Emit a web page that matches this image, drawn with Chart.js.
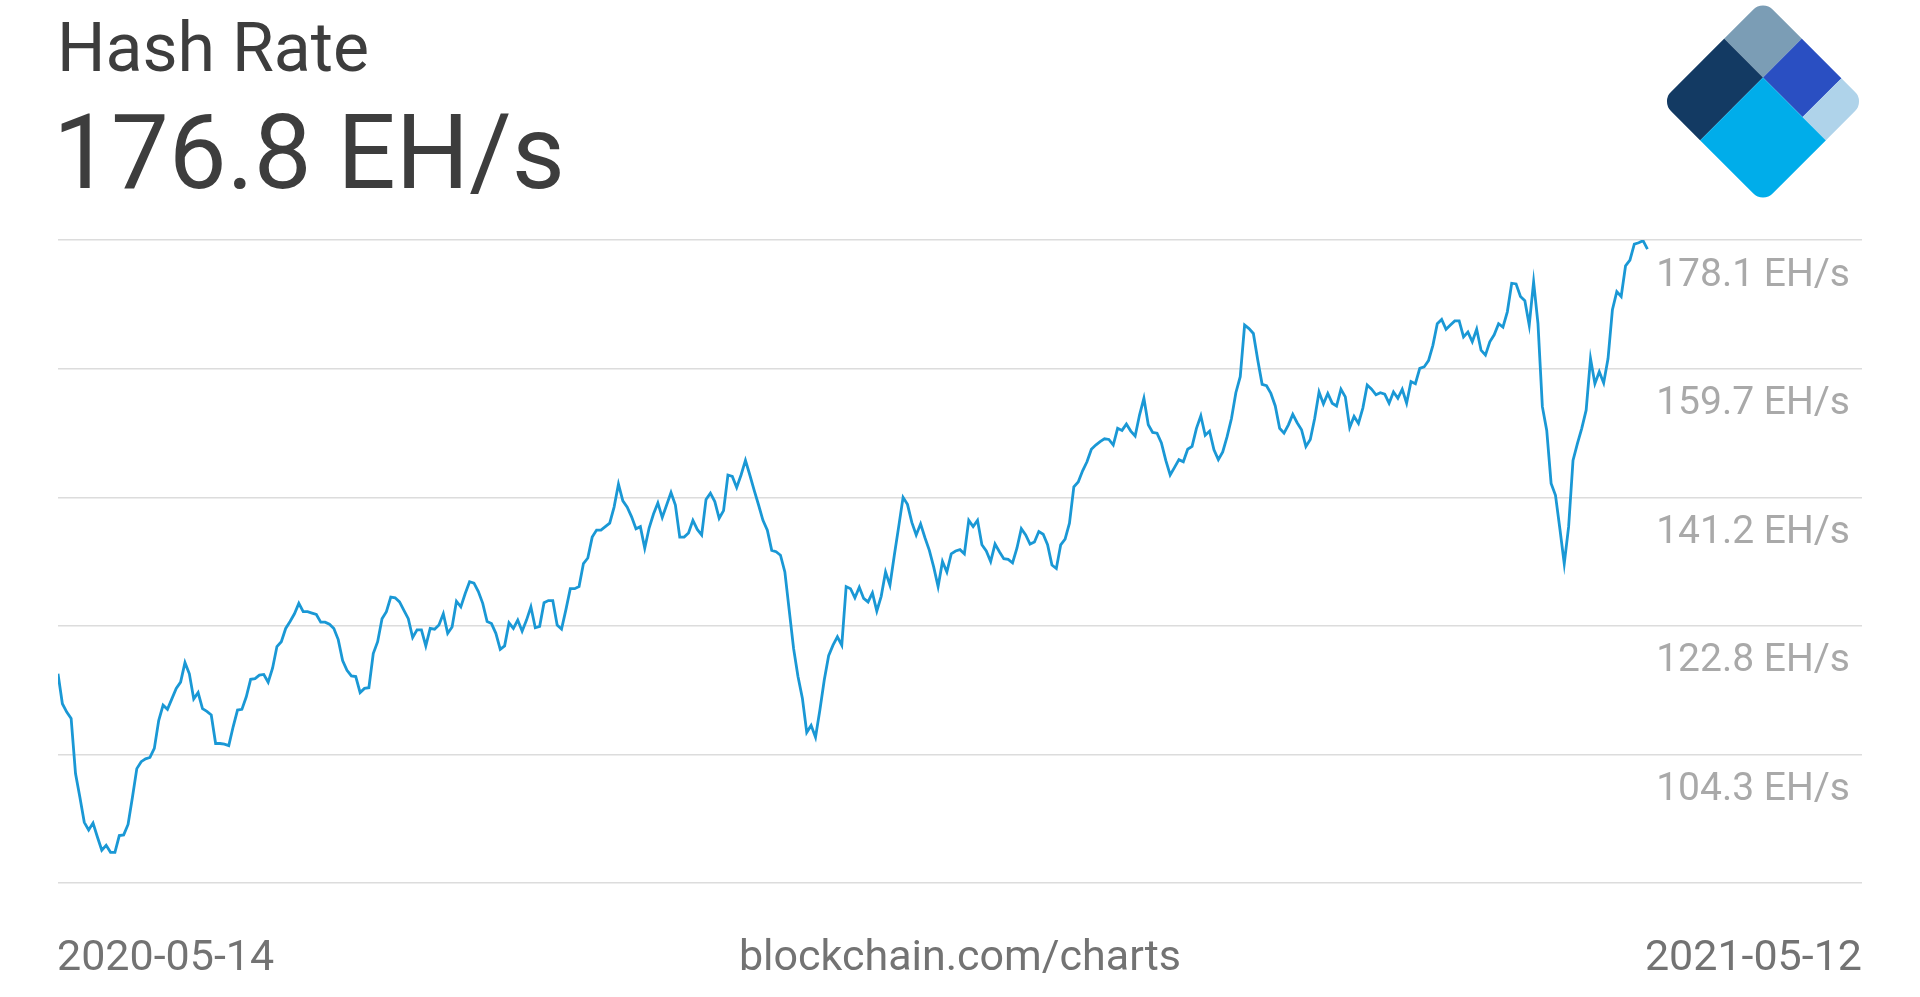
<!DOCTYPE html>
<html>
<head>
<meta charset="utf-8">
<title>Hash Rate</title>
<script src="https://cdn.jsdelivr.net/npm/chart.js@4.4.1/dist/chart.umd.min.js"></script>
<style>
    html, body { margin: 0; padding: 0; background: #fff; }
    body { width: 1920px; height: 997px; position: relative; overflow: hidden; font-family: Roboto, 'Noto Sans', sans-serif; }
    #chart { position: absolute; left: 0; top: 0; }
    #logo { position: absolute; left: 0; top: 0; }
    .txt { position: absolute; line-height: 1; white-space: nowrap; }
    #title { left: 57px; top: 14px; font-size: 68px; color: #3d3d3d; }
    #current { left: 53px; top: 101px; font-size: 103px; color: #3d3d3d; }
    .foot { top: 934px; font-size: 43px; color: #737373; }
    #start { left: 57px; }
    #source { left: 0; width: 1920px; text-align: center; }
    #end { right: 58px; }
</style>
</head>
<body>
<canvas id="chart" width="1920" height="997"></canvas>

<svg id="logo" width="1920" height="220">
    <defs>
        <clipPath id="sq"><rect x="-72" y="-72" width="144" height="144" rx="14"/></clipPath>
    </defs>
    <g transform="translate(1763 101.5) rotate(45)" clip-path="url(#sq)">
        <rect x="-72" y="-72" width="55" height="55" fill="#7b9db5"/>
        <rect x="-17" y="-72" width="56" height="55" fill="#2a4fc2"/>
        <rect x="39" y="-72" width="33" height="55" fill="#afd3ea"/>
        <rect x="-72" y="-17" width="55" height="89" fill="#133a63"/>
        <rect x="-17" y="-17" width="89" height="89" fill="#00adea"/>
    </g>
</svg>

<div id="title" class="txt">Hash Rate</div>
<div id="current" class="txt">176.8 EH/s</div>
<div id="start" class="txt foot">2020-05-14</div>
<div id="source" class="txt foot">blockchain.com/charts</div>
<div id="end" class="txt foot">2021-05-12</div>

<script>
// Daily hash rate, 2020-05-14 .. 2021-05-12 (EH/s)
const startDate = '2020-05-14';
const endDate = '2021-05-12';
const unit = 'EH/s';

const hashRate = [
    115.9, 111.6, 110.4, 109.5, 101.6, 98.2, 94.6, 93.5, 94.5, 92.5,
    90.6, 91.3, 90.3, 90.3, 92.7, 92.8, 94.3, 98.2, 102.3, 103.3,
    103.7, 103.9, 105.2, 109.2, 111.4, 110.8, 112.3, 113.8, 114.7, 117.5,
    115.9, 112.3, 113.2, 110.9, 110.5, 110.0, 105.9, 105.9, 105.8, 105.6,
    108.3, 110.7, 110.8, 112.6, 115.1, 115.2, 115.7, 115.8, 114.7, 116.7,
    119.8, 120.5, 122.4, 123.4, 124.5, 126.0, 124.8, 124.8, 124.6, 124.4,
    123.3, 123.3, 123.0, 122.4, 120.8, 117.8, 116.4, 115.6, 115.5, 113.2,
    113.8, 113.9, 118.8, 120.5, 123.8, 124.8, 126.9, 126.8, 126.2, 125.0,
    123.8, 121.1, 122.2, 122.2, 119.9, 122.4, 122.3, 122.9, 124.5, 121.7,
    122.6, 126.3, 125.5, 127.4, 129.1, 128.9, 127.7, 126.0, 123.4, 123.1,
    121.7, 119.4, 119.9, 123.2, 122.4, 123.6, 122.0, 123.6, 125.5, 122.5,
    122.7, 126.1, 126.4, 126.4, 122.9, 122.3, 125.1, 128.1, 128.1, 128.4,
    131.7, 132.5, 135.5, 136.5, 136.5, 137.0, 137.5, 139.8, 143.1, 140.7,
    139.8, 138.4, 136.7, 137.0, 133.9, 136.8, 138.8, 140.4, 138.3, 140.1,
    141.9, 140.1, 135.5, 135.5, 136.1, 137.9, 136.6, 135.8, 140.9, 141.8,
    140.6, 138.2, 139.3, 144.4, 144.2, 142.6, 144.4, 146.5, 144.4, 142.2,
    140.1, 137.9, 136.5, 133.6, 133.4, 132.9, 130.5, 125.0, 119.5, 115.5,
    112.4, 107.5, 108.5, 106.8, 110.7, 115.0, 118.5, 120.0, 121.2, 120.0,
    128.4, 128.1, 126.8, 128.3, 126.7, 126.2, 127.5, 124.9, 127.0, 130.5,
    128.6, 132.9, 137.0, 141.2, 140.2, 137.6, 135.8, 137.4, 135.4, 133.6,
    131.2, 128.4, 132.0, 130.5, 133.1, 133.5, 133.7, 133.1, 137.9, 137.0,
    137.9, 134.4, 133.5, 132.0, 134.5, 133.4, 132.4, 132.3, 131.8, 133.9,
    136.7, 135.8, 134.5, 134.8, 136.3, 135.9, 134.4, 131.5, 131.0, 134.4,
    135.2, 137.5, 142.7, 143.4, 145.0, 146.3, 148.1, 148.7, 149.2, 149.6,
    149.5, 148.7, 151.1, 150.8, 151.7, 150.7, 150.0, 153.0, 155.4, 151.6,
    150.5, 150.4, 149.0, 146.5, 144.4, 145.5, 146.6, 146.3, 148.1, 148.5,
    151.1, 152.9, 150.1, 150.7, 148.0, 146.6, 147.7, 149.9, 152.5, 156.2,
    158.5, 165.9, 165.4, 164.7, 160.9, 157.4, 157.2, 156.1, 154.3, 151.1,
    150.4, 151.6, 153.1, 151.9, 150.9, 148.5, 149.5, 152.5, 156.3, 154.6,
    156.1, 154.7, 154.3, 156.7, 155.6, 151.2, 152.8, 151.8, 154.0, 157.3,
    156.7, 155.9, 156.2, 156.0, 154.7, 156.3, 155.4, 156.7, 154.7, 157.8,
    157.5, 159.7, 159.9, 160.8, 163.0, 166.1, 166.7, 165.3, 165.9, 166.5,
    166.5, 164.2, 164.9, 163.5, 165.3, 162.3, 161.6, 163.5, 164.5, 166.1,
    165.6, 167.8, 171.9, 171.8, 170.0, 169.4, 165.9, 172.1, 166.1, 154.2,
    150.8, 143.2, 141.5, 136.7, 131.7, 137.0, 146.5, 148.9, 151.1, 153.7,
    161.1, 157.5, 159.2, 157.6, 161.1, 168.1, 170.7, 170.0, 174.4, 175.2,
    177.5, 177.7, 178.0, 176.8
];

// Gridline values (lowest one has no label)
const yTicks = [85.9, 104.3, 122.8, 141.2, 159.7, 178.1];

// x = days since start date
const points = hashRate.map((v, i) => ({ x: i, y: v }));

new Chart(document.getElementById('chart'), {
    type: 'line',
    data: {
        datasets: [{
            data: points,
            borderColor: '#1a98d5',
            borderWidth: 2.8,
            pointRadius: 0,
            tension: 0,
            fill: false
        }]
    },
    options: {
        responsive: false,
        animation: false,
        devicePixelRatio: 1,
        layout: { padding: { left: 58, right: 58, top: 240, bottom: 114 } },
        plugins: {
            legend: { display: false },
            tooltip: { enabled: false }
        },
        scales: {
            x: { type: 'linear', min: 0, max: 412, display: false },
            y: {
                position: 'right',
                min: yTicks[0],
                max: yTicks[yTicks.length - 1],
                afterBuildTicks: axis => {
                    axis.ticks = yTicks.map(v => ({ value: v }));
                },
                // labels sit inside the plot, so the axis takes no room
                afterFit: axis => { axis.width = 0; },
                grid: { color: '#dcdcdc', lineWidth: 1.5, drawTicks: false },
                border: { display: false },
                ticks: {
                    mirror: true,
                    padding: -12,
                    labelOffset: 36,
                    crossAlign: 'near',
                    color: '#a9a9a9',
                    font: { family: 'Roboto', size: 39 },
                    callback: v => v === yTicks[0] ? '' : v.toFixed(1) + ' ' + unit
                }
            }
        }
    }
});
</script>
</body>
</html>
